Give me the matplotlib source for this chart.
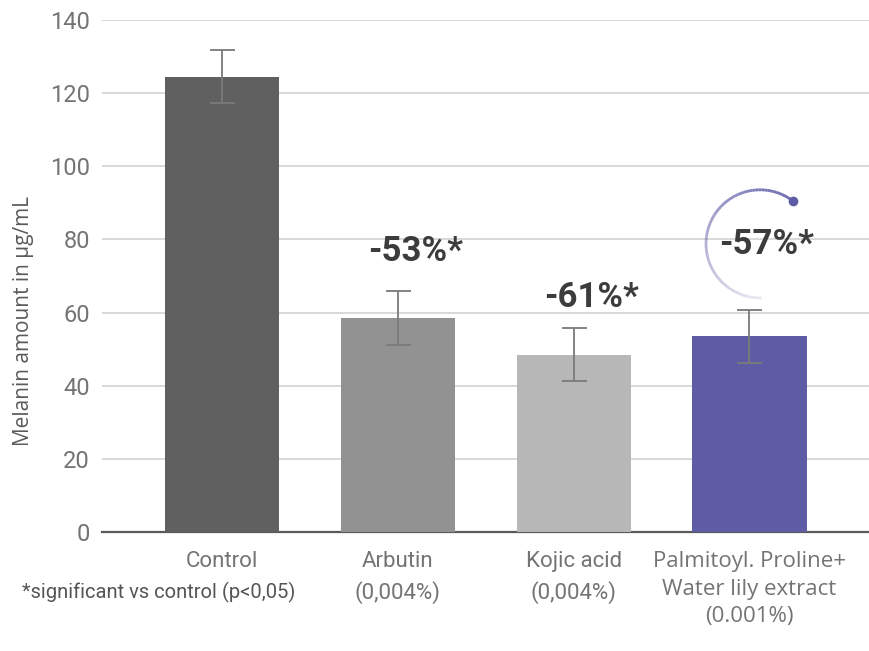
import numpy as np
import matplotlib
matplotlib.use('Agg')
import matplotlib.pyplot as plt
from matplotlib.collections import LineCollection

# ========== DATA ==========
categories = ["Control", "Arbutin\n(0,004%)", "Kojic acid\n(0,004%)",
              "Palmitoyl. Proline+\nWater lily extract\n(0.001%)"]
values = [124.5, 58.5, 48.5, 53.5]
errors = [7.3, 7.3, 7.3, 7.3]
reductions = ["", "-53%*", "-61%*", "-57%*"]
bar_colors = ["#606060", "#929292", "#b7b7b7", "#5f5ca6"]

TICK_GREY = "#747474"
roboto = ['Roboto', 'DejaVu Sans']
opensans = ['Open Sans', 'DejaVu Sans']

# ========== PLOT ==========
fig = plt.figure(figsize=(8.69, 6.51), dpi=100)
ax = fig.add_axes([102 / 869, 119 / 651, 767 / 869, 512 / 651])

x = np.arange(len(categories))
ax.bar(x, values, width=0.65, color=bar_colors, zorder=3)
ax.errorbar(x, values, yerr=errors, fmt='none', ecolor='#7a7a7a',
            elinewidth=1.3, capsize=9, capthick=1.3, zorder=4)

ax.set_xlim(-0.683, 3.68)
ax.set_ylim(0, 140)
ax.set_yticks(np.arange(0, 141, 20))
ax.yaxis.grid(True, color='#d6d6d6', linewidth=1.3, zorder=0)
ax.set_axisbelow(True)
for s in ['top', 'right', 'left']:
    ax.spines[s].set_visible(False)
ax.spines['bottom'].set_color('#5a5a5a')
ax.spines['bottom'].set_linewidth(1.6)
ax.tick_params(axis='both', length=0, colors=TICK_GREY)
ax.tick_params(axis='y', pad=8.6)
ax.tick_params(axis='x', pad=14)
for lab in ax.get_yticklabels():
    lab.set_fontsize(17)
    lab.set_family(roboto)

ax.set_xticks(x)
ax.set_xticklabels(categories, fontsize=16, family=roboto, linespacing=1.5,
                   color=TICK_GREY, va='top')
last = ax.get_xticklabels()[-1]
last.set_family(opensans)
last.set_fontsize(16)
last.set_linespacing(1.4)

fig.text(24 / 869, 330 / 651, "Melanin amount in µg/mL", rotation=90,
         ha='center', va='center', fontsize=15, color='#5a5a5a', family=opensans)

# percentage labels
label_y = [0, 76.6, 64.0, 78.5]
for i, txt in enumerate(reductions):
    if not txt:
        continue
    ax.text(i + 0.1, label_y[i], txt, ha='center', va='center', fontsize=25,
            fontweight='bold', color='#3c3c3c', family=roboto, zorder=6)

# circular arc around the highlighted bar's label
fig.canvas.draw()
cx, cy = ax.transData.transform((3.06, 78.8))
r = 54
ang = np.radians(np.linspace(52, 272, 140))
px = cx + r * np.cos(ang)
py = cy + r * np.sin(ang)
pts = np.column_stack([px, py]).reshape(-1, 1, 2)
segs = np.concatenate([pts[:-1], pts[1:]], axis=1)
alphas = np.linspace(1.0, 0.12, len(segs))
cols = [(0.37, 0.36, 0.65, a) for a in alphas]
lc = LineCollection(segs, colors=cols, linewidths=2.0, transform=None, zorder=5)
fig.add_artist(lc)
fig.add_artist(plt.Line2D([px[0]], [py[0]], marker='o', markersize=6,
                          color='#5f5ca6', transform=None))

fig.text(22 / 869, 1 - 592 / 651, "*significant vs control (p<0,05)",
         fontsize=14.5, color='#555555', family=roboto, va='center')

fig.savefig("out.png", dpi=100)
